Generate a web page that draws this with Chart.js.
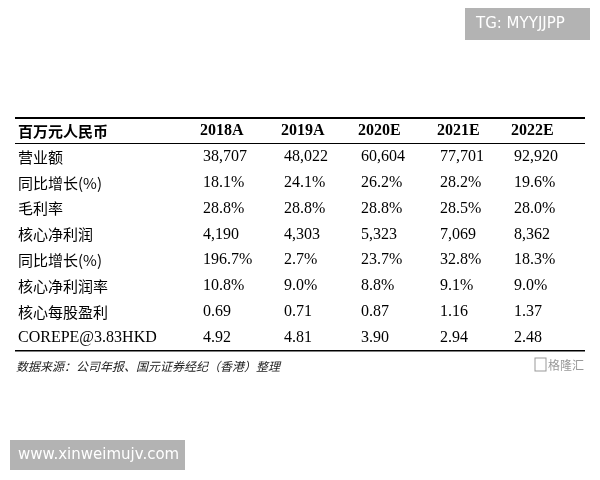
<!DOCTYPE html>
<html><head><meta charset="utf-8">
<script src="https://cdn.jsdelivr.net/npm/chart.js@4"></script>
<style>html,body{margin:0;background:#fff}#wrap{width:600px;height:480px}</style>
</head><body><div id="wrap"><canvas id="c"></canvas></div>
<script>
const headerLabel = '百万元人民币';
const years = ['2018A', '2019A', '2020E', '2021E', '2022E'];
const rowLabels = ['营业额', '同比增长(%)', '毛利率', '核心净利润', '同比增长(%)', '核心净利润率', '核心每股盈利', 'COREPE@3.83HKD'];
const rowValues = [
    ['38,707', '48,022', '60,604', '77,701', '92,920'],
    ['18.1%', '24.1%', '26.2%', '28.2%', '19.6%'],
    ['28.8%', '28.8%', '28.8%', '28.5%', '28.0%'],
    ['4,190', '4,303', '5,323', '7,069', '8,362'],
    ['196.7%', '2.7%', '23.7%', '32.8%', '18.3%'],
    ['10.8%', '9.0%', '8.8%', '9.1%', '9.0%'],
    ['0.69', '0.71', '0.87', '1.16', '1.37'],
    ['4.92', '4.81', '3.90', '2.94', '2.48']
];
const sourceNote = '数据来源：公司年报、国元证券经纪（香港）整理';

// layout (page pixels, mapped through the hidden linear scales)
const colX = [203, 284, 361, 440, 514];
const headY = 131, rowY0 = 157, rowStep = 25.8;

const tablePlugin = {
    id: 'table',
    afterDraw(chart) {
        const { ctx, scales: { x, y } } = chart;
        const px = v => x.getPixelForValue(v), py = v => y.getPixelForValue(v);
        const serif = "'Liberation Serif', serif", cjk = "'Noto Sans CJK SC', sans-serif";
        ctx.save();
        ctx.fillStyle = '#000';
        ctx.textBaseline = 'middle';
        // rules
        ctx.fillRect(px(15), py(117), px(585) - px(15), 2);
        ctx.fillRect(px(15), py(143), px(585) - px(15), 1);
        ctx.fillRect(px(15), py(350), px(585) - px(15), 1.5);
        // header
        ctx.font = "bold 15px " + cjk;
        ctx.fillText(headerLabel, px(18), py(headY));
        ctx.font = "bold 16px " + serif;
        years.forEach((yr, i) => ctx.fillText(yr, px(colX[i] - 3), py(headY)));
        // rows
        rowLabels.forEach((lab, r) => {
            const yy = py(rowY0 + r * rowStep);
            ctx.font = /[A-Z]/.test(lab[0]) ? "16px " + serif : "15px " + cjk;
            ctx.fillText(lab, px(18), yy);
            ctx.font = "16px " + serif;
            rowValues[r].forEach((v, i) => ctx.fillText(v, px(colX[i]), yy));
        });
        // source
        ctx.font = "italic 12px " + cjk;
        ctx.fillStyle = '#222';
        ctx.fillText(sourceNote, px(16), py(366));
        ctx.fillStyle = '#999';
        ctx.font = "12px " + cjk;
        ctx.fillText('格隆汇', px(548), py(365));
        ctx.strokeStyle = '#999';
        ctx.strokeRect(px(535), py(358), 11, 13);
        // watermarks
        ctx.fillStyle = '#b3b3b3';
        ctx.fillRect(px(465), py(8), px(590) - px(465), py(40) - py(8));
        ctx.fillRect(px(10), py(440), px(185) - px(10), py(470) - py(440));
        ctx.fillStyle = '#fff';
        ctx.font = "15px 'DejaVu Sans', sans-serif";
        ctx.fillText('TG: MYYJJPP', px(476), py(24));
        ctx.fillText('www.xinweimujv.com', px(18), py(455));
        ctx.restore();
    }
};

new Chart(document.getElementById('c').getContext('2d'), {
    type: 'scatter',
    data: { datasets: [{ data: [] }] },
    options: {
        responsive: true,
        maintainAspectRatio: false,
        animation: false,
        layout: { padding: 0 },
        plugins: { legend: { display: false }, tooltip: { enabled: false } },
        scales: {
            x: { type: 'linear', min: 0, max: 600, display: false },
            y: { type: 'linear', min: 0, max: 480, reverse: true, display: false }
        }
    },
    plugins: [tablePlugin]
});
</script></body></html>
